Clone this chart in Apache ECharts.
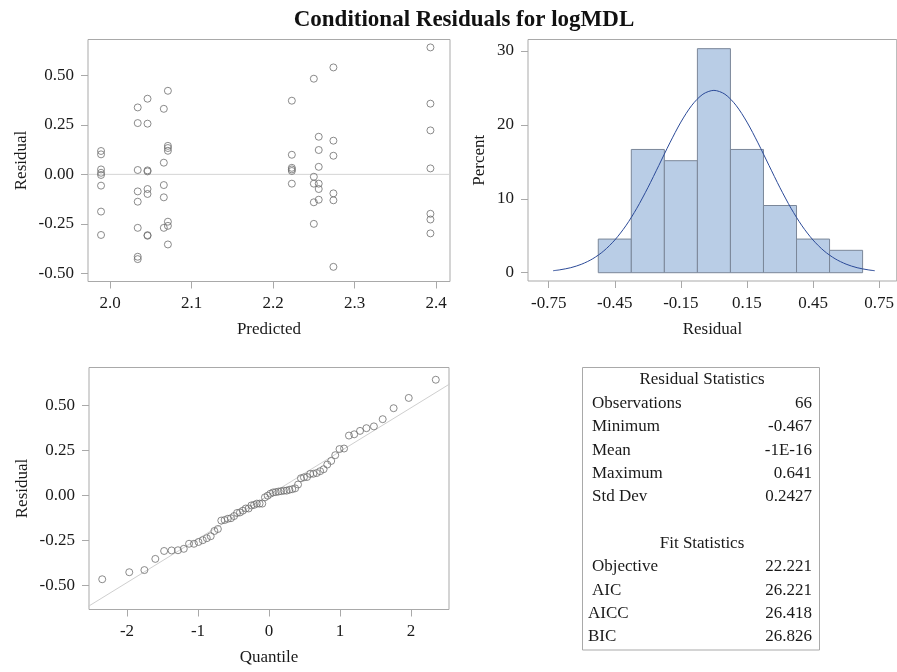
<!DOCTYPE html>
<html>
<head>
<meta charset="utf-8">
<script src="https://cdn.jsdelivr.net/npm/echarts@6/dist/echarts.min.js"></script>
<style>
html,body{margin:0;padding:0;background:#fff;}
#main{width:897px;height:672px;}
</style>
</head>
<body>
<div id="main"></div>
<script>
// ---------- DATA ----------
const predicted = [
  1.989,1.989,1.989,1.989,1.989,1.989,1.989,1.989,
  2.034,2.034,2.034,2.034,2.034,2.034,2.034,2.034,
  2.046,2.046,2.046,2.046,2.046,2.046,2.046,2.046,
  2.066,2.066,2.066,2.066,2.066,
  2.071,2.071,2.071,2.071,2.071,2.071,2.071,
  2.223,2.223,2.223,2.223,2.223,2.223,
  2.250,2.250,2.250,2.250,2.250,
  2.256,2.256,2.256,2.256,2.256,2.256,
  2.274,2.274,2.274,2.274,2.274,2.274,
  2.393,2.393,2.393,2.393,2.393,2.393,2.393
];
const residual = [
  0.118,0.101,0.025,0.008,-0.003,-0.057,-0.188,-0.306,
  0.338,0.259,0.022,-0.086,-0.138,-0.270,-0.416,-0.428,
  0.382,0.256,0.020,0.015,-0.074,-0.099,-0.307,-0.310,
  0.331,0.059,-0.054,-0.116,-0.270,
  0.422,0.144,0.133,0.119,-0.239,-0.260,-0.354,
  0.372,0.099,0.033,0.025,0.017,-0.047,
  0.483,-0.012,-0.047,-0.141,-0.250,
  0.190,0.123,0.038,-0.047,-0.074,-0.128,
  0.540,0.170,0.094,-0.096,-0.131,-0.467,
  0.641,0.357,0.222,0.030,-0.199,-0.228,-0.298
];
const predTicks = [2.0, 2.1, 2.2, 2.3, 2.4];
const residTicks = [-0.5, -0.25, 0, 0.25, 0.5];

const binStart = [-0.525,-0.375,-0.225,-0.075,0.075,0.225,0.375,0.525];
const binEnd   = [-0.375,-0.225,-0.075,0.075,0.225,0.375,0.525,0.675];
const binPercent = [4.55,16.67,15.15,30.30,16.67,9.09,4.55,3.03];
const histXTicks = [-0.75,-0.45,-0.15,0.15,0.45,0.75];
const histYTicks = [0,10,20,30];
const curveX = [-0.73,-0.70,-0.65,-0.60,-0.55,-0.50,-0.45,-0.40,-0.35,-0.30,-0.25,-0.20,-0.15,-0.10,-0.05,0,
                0.05,0.10,0.15,0.20,0.25,0.30,0.35,0.40,0.45,0.50,0.55,0.60,0.65,0.70,0.73];
const curveY = [0.27,0.39,0.68,1.16,1.89,2.95,4.42,6.34,8.72,11.49,14.51,17.56,20.37,22.65,24.14,24.66,
                24.14,22.65,20.37,17.56,14.51,11.49,8.72,6.34,4.42,2.95,1.89,1.16,0.68,0.39,0.27];

const quantiles = [
  -2.349,-1.968,-1.755,-1.601,-1.477,-1.372,-1.282,-1.200,-1.126,-1.057,-0.993,
  -0.933,-0.876,-0.821,-0.769,-0.720,-0.672,-0.625,-0.580,-0.536,-0.492,-0.450,
  -0.409,-0.368,-0.327,-0.287,-0.248,-0.210,-0.171,-0.133,-0.095,-0.057,-0.019,
  0.019,0.057,0.095,0.133,0.171,0.210,0.248,0.287,0.327,0.368,0.409,
  0.450,0.492,0.536,0.580,0.625,0.672,0.720,0.769,0.821,0.876,0.933,
  0.993,1.057,1.126,1.200,1.282,1.372,1.477,1.601,1.755,1.968,2.349
];
const quantTicks = [-2,-1,0,1,2];
const refLineQ = [-2.6, 2.6];
const refLineSlope = 0.2427;

const title = 'Conditional Residuals for logMDL';
const resStatTitle = 'Residual Statistics';
const resStatLabels = ['Observations','Minimum','Mean','Maximum','Std Dev'];
const resStatValues = ['66','-0.467','-1E-16','0.641','0.2427'];
const fitStatTitle = 'Fit Statistics';
const fitStatLabels = ['Objective','AIC','AICC','BIC'];
const fitStatValues = ['22.221','26.221','26.418','26.826'];

// ---------- STYLE ----------
const FONT = '"Liberation Serif", "Times New Roman", serif';
const FS = 17;
const FRAME = '#a9a9a9';
const TXT = '#1a1a1a';

function axisDef(gridIndex, min, max, name, nameGap, ticks, fmt) {
  return {
    gridIndex: gridIndex, type: 'value', min: min, max: max,
    name: name, nameGap: nameGap, nameLocation: 'middle',
    nameTextStyle: {color: TXT, fontFamily: FONT, fontSize: FS},
    axisLine: {show: false, onZero: false},
    splitLine: {show: false},
    axisTick: {show: true, inside: false, length: 7, lineStyle: {color: FRAME}, customValues: ticks},
    axisLabel: {color: TXT, fontFamily: FONT, fontSize: FS, margin: 14, customValues: ticks, formatter: fmt}
  };
}

const scatterData = predicted.map((p, i) => [p, residual[i]]);
const sortedRes = residual.slice().sort((a, b) => a - b);
const qqData = quantiles.map((q, i) => [q, sortedRes[i]]);
const histData = binStart.map((s, i) => [s, binEnd[i], binPercent[i]]);
const curveData = curveX.map((x, i) => [x, curveY[i]]);
const refData = refLineQ.map(q => [q, q * refLineSlope]);

const circle = {color: 'rgba(0,0,0,0)', borderColor: '#6e6e6e', borderWidth: 1};

// table graphics
const tblLeft = 582.5, tblTop = 367.5, tblW = 237, tblH = 282.5;
const tblCenter = tblLeft + tblW / 2 + 1;
const rowY0 = 380, rowStep = 23.35;
const gfx = [{
  type: 'rect', shape: {x: tblLeft, y: tblTop, width: tblW, height: tblH},
  style: {fill: 'none', stroke: FRAME, lineWidth: 1}, silent: true
}];
function txt(t, x, y, align) {
  return {type: 'text', x: x, y: y, silent: true,
    style: {text: t, fill: TXT, font: FS + 'px ' + FONT, textAlign: align, textVerticalAlign: 'middle'}};
}
gfx.push(txt(resStatTitle, tblCenter, rowY0, 'center'));
resStatLabels.forEach((l, i) => {
  gfx.push(txt(l, 592, rowY0 + rowStep * (i + 1), 'left'));
  gfx.push(txt(resStatValues[i], 812, rowY0 + rowStep * (i + 1), 'right'));
});
const fitY0 = 543.5;
gfx.push(txt(fitStatTitle, tblCenter, fitY0, 'center'));
fitStatLabels.forEach((l, i) => {
  const lx = (l === 'AICC' || l === 'BIC') ? 588 : 592;
  gfx.push(txt(l, lx, fitY0 + rowStep * (i + 1), 'left'));
  gfx.push(txt(fitStatValues[i], 812, fitY0 + rowStep * (i + 1), 'right'));
});

const chart = echarts.init(document.getElementById('main'), null, {renderer: 'canvas'});
chart.setOption({
  backgroundColor: '#fff',
  animation: false,
  title: {
    text: title, left: 459, top: 4, textAlign: 'center',
    textStyle: {fontFamily: FONT, fontSize: 23, fontWeight: 'bold', color: '#111'}
  },
  grid: [
    {left: 88, top: 39.5, width: 362, height: 242, show: true, borderColor: FRAME, borderWidth: 1},
    {left: 528, top: 39.5, right: -4, height: 241.5, show: true, borderColor: FRAME, borderWidth: 1},
    {left: 89, top: 367.5, width: 360, height: 242, show: true, borderColor: FRAME, borderWidth: 1}
  ],
  xAxis: [
    axisDef(0, 1.973, 2.417, 'Predicted', 40, predTicks, v => v.toFixed(1)),
    axisDef(1, -0.844, 0.83, 'Residual', 40, histXTicks, v => v.toFixed(2)),
    axisDef(2, -2.535, 2.535, 'Quantile', 40, quantTicks, v => String(v))
  ],
  yAxis: [
    axisDef(0, -0.541, 0.681, 'Residual', 58, residTicks, v => v.toFixed(2)),
    axisDef(1, -1.12, 31.54, 'Percent', 40, histYTicks, v => String(v)),
    axisDef(2, -0.635, 0.709, 'Residual', 58, residTicks, v => v.toFixed(2))
  ],
  series: [
    {
      type: 'line', xAxisIndex: 0, yAxisIndex: 0, data: [[1.973, 0], [2.417, 0]],
      showSymbol: false, silent: true, lineStyle: {color: '#d4d4d4', width: 1}, z: 1
    },
    {
      type: 'scatter', xAxisIndex: 0, yAxisIndex: 0, data: scatterData,
      symbol: 'circle', symbolSize: 7, itemStyle: circle, z: 3
    },
    {
      type: 'custom', xAxisIndex: 1, yAxisIndex: 1, data: histData,
      encode: {x: [0, 1], y: 2},
      renderItem: function (params, api) {
        const p0 = api.coord([api.value(0), 0]);
        const p1 = api.coord([api.value(1), api.value(2)]);
        return {
          type: 'rect',
          shape: {x: p0[0], y: p1[1], width: p1[0] - p0[0], height: p0[1] - p1[1]},
          style: {fill: '#b9cde6', stroke: '#7b8799', lineWidth: 1}
        };
      },
      z: 2
    },
    {
      type: 'line', xAxisIndex: 1, yAxisIndex: 1, data: curveData, smooth: 0.3,
      showSymbol: false, silent: true, lineStyle: {color: '#2b4a98', width: 1}, z: 4
    },
    {
      type: 'line', xAxisIndex: 2, yAxisIndex: 2, data: refData,
      showSymbol: false, silent: true, lineStyle: {color: '#cfcfcf', width: 1}, z: 1, clip: true
    },
    {
      type: 'scatter', xAxisIndex: 2, yAxisIndex: 2, data: qqData,
      symbol: 'circle', symbolSize: 7, itemStyle: circle, z: 3
    }
  ],
  graphic: gfx
});
</script>
</body>
</html>
